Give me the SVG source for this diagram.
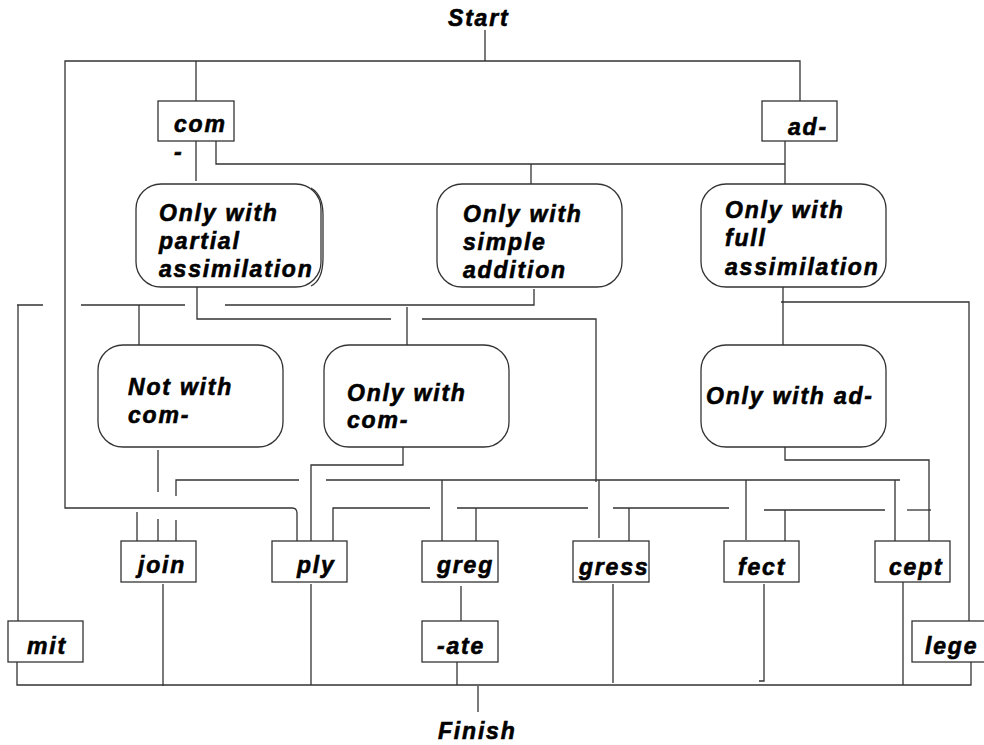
<svg xmlns="http://www.w3.org/2000/svg" width="984" height="745" viewBox="0 0 984 745">
<style>
.t{font-family:"Liberation Sans",Arial,sans-serif;font-weight:bold;font-style:italic;font-size:23px;letter-spacing:1.8px;fill:#000;stroke:#000;stroke-width:0.6}
.b{fill:#fff;stroke:#333;stroke-width:1.3}
.c{fill:none;stroke:#333;stroke-width:1.3}
</style>
<rect width="984" height="745" fill="#fff"/>
<g id="connectors" class="c">
<path d="M485,30V61"/>
<path d="M800,101V61H65V508H292Q297,508 297,513V541"/>
<path d="M196,61V101"/>
<path d="M196,141V181"/>
<path d="M216,141V164H785"/>
<path d="M531,164V184"/>
<path d="M785,141V184"/>
<path d="M197,287V319H391"/>
<path d="M17,305H43M18,305V621"/>
<path d="M81,305H185M139,305V345"/>
<path d="M534,289V305H225"/>
<path d="M407,307V345"/>
<path d="M422,319H596V482"/>
<path d="M783,287V345"/>
<path d="M781,302H969V621"/>
<path d="M158,450V492M158,519V541"/>
<path d="M299,480H176V496M176,520V541"/>
<path d="M137,512V541"/>
<path d="M403,447V465H311V541"/>
<path d="M430,508H333V541"/>
<path d="M326,480H900M442,480V541M599,480V538M746,480V540M895,480V542"/>
<path d="M457,508H588M476,508V541"/>
<path d="M613,508H729M629,508V541"/>
<path d="M764,510H885M785,510V541"/>
<path d="M907,510H931"/>
<path d="M785,447V460H929V541"/>
<path d="M17,662V685H971V662"/>
<path d="M163,584V686"/>
<path d="M311,584V685"/>
<path d="M461,586V621"/>
<path d="M457,662V685"/>
<path d="M478,686V712"/>
<path d="M613,584V683"/>
<path d="M764,584V681H759"/>
<path d="M903,582V685"/>
</g>
<g id="start"><text class="t" x="448" y="26">Start</text></g>
<g id="com"><rect class="b" x="158" y="101" width="76" height="40"/><text class="t" x="174" y="132">com</text><text class="t" x="174" y="160">-</text></g>
<g id="ad"><rect class="b" x="762" y="101" width="75" height="40"/><text class="t" x="788" y="135">ad-</text></g>
<g id="partial"><rect class="b" x="136" y="184" width="185" height="103" rx="25"/><path class="c" d="M311,188Q323,195 323,215V258Q323,280 311,286"/><text class="t" x="159" y="221">Only with</text><text class="t" x="159" y="249">partial</text><text class="t" x="159" y="277">assimilation</text></g>
<g id="simple"><rect class="b" x="437" y="184" width="185" height="103" rx="25"/><text class="t" x="463" y="222">Only with</text><text class="t" x="463" y="250">simple</text><text class="t" x="463" y="278">addition</text></g>
<g id="full"><rect class="b" x="701" y="184" width="185" height="103" rx="25"/><text class="t" x="725" y="218">Only with</text><text class="t" x="725" y="246">full</text><text class="t" x="725" y="275">assimilation</text></g>
<g id="notcom"><rect class="b" x="98" y="345" width="185" height="102" rx="25"/><text class="t" x="128" y="395">Not with</text><text class="t" x="128" y="423">com-</text></g>
<g id="onlycom"><rect class="b" x="324" y="345" width="185" height="102" rx="25"/><text class="t" x="347" y="401">Only with</text><text class="t" x="347" y="428">com-</text></g>
<g id="onlyad"><rect class="b" x="701" y="345" width="185" height="102" rx="25"/><text class="t" x="706" y="404">Only with ad-</text></g>
<g id="join"><rect class="b" x="121" y="541" width="75" height="41"/><text class="t" x="138" y="573">join</text></g>
<g id="ply"><rect class="b" x="272" y="541" width="75" height="41"/><text class="t" x="297" y="573">ply</text></g>
<g id="greg"><rect class="b" x="422" y="541" width="76" height="41"/><text class="t" x="437" y="573">greg</text></g>
<g id="gress"><rect class="b" x="573" y="541" width="76" height="41"/><text class="t" x="579" y="575">gress</text></g>
<g id="fect"><rect class="b" x="724" y="541" width="75" height="41"/><text class="t" x="738" y="575">fect</text></g>
<g id="cept"><rect class="b" x="875" y="541" width="75" height="41"/><text class="t" x="889" y="575">cept</text></g>
<g id="mit"><rect class="b" x="8" y="621" width="75" height="41"/><text class="t" x="27" y="654">mit</text></g>
<g id="ate"><rect class="b" x="422" y="621" width="76" height="41"/><text class="t" x="437" y="654">-ate</text></g>
<g id="lege"><rect class="b" x="912" y="621" width="75" height="41"/><text class="t" x="925" y="654">lege</text></g>
<g id="finish"><text class="t" x="438" y="739">Finish</text></g>
</svg>
